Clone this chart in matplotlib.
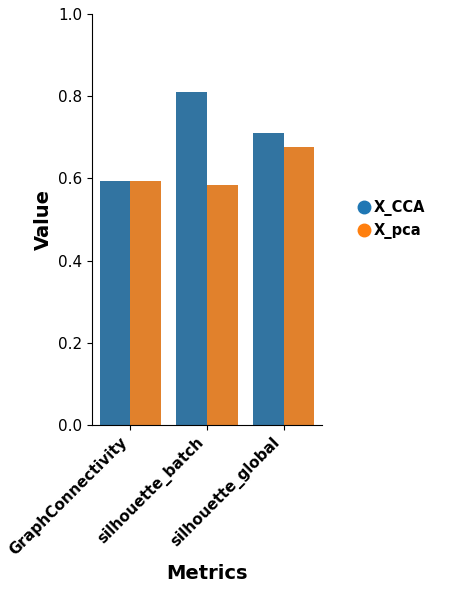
import numpy as np
import matplotlib
matplotlib.use("Agg")
import matplotlib.pyplot as plt
from matplotlib.lines import Line2D

metrics = ["GraphConnectivity", "silhouette_batch", "silhouette_global"]
methods = ["X_CCA", "X_pca"]
x_cca = [0.594, 0.810, 0.710]
x_pca = [0.594, 0.584, 0.676]

bar_colors = ["#3274a1", "#e1812c"]
legend_colors = ["#1f77b4", "#ff7f0e"]

fig = plt.figure(figsize=(4.52, 5.9), dpi=100)
ax = fig.add_axes([0.2035, 0.2797, 0.5085, 0.6966])

x = np.arange(len(metrics))
w = 0.4
ax.bar(x - w / 2, x_cca, width=w, color=bar_colors[0])
ax.bar(x + w / 2, x_pca, width=w, color=bar_colors[1])

ax.set_xlim(-0.5, len(metrics) - 0.5)
ax.set_ylim(0, 1.0)
ax.set_xticks(x)
ax.set_xticklabels(metrics, rotation=45, ha="right", fontsize=11, fontweight="bold")
ax.tick_params(axis="y", labelsize=11)
ax.set_xlabel("Metrics", fontsize=14, fontweight="bold")
ax.set_ylabel("Value", fontsize=14, fontweight="bold")
ax.spines["top"].set_visible(False)
ax.spines["right"].set_visible(False)

handles = [Line2D([0], [0], marker="o", linestyle="", markersize=9,
                  markerfacecolor=c, markeredgecolor=c) for c in legend_colors]
leg = ax.legend(handles, methods, loc="center left", bbox_to_anchor=(1.1, 0.5),
                frameon=False, handlelength=0.8, handletextpad=0.25,
                prop={"weight": "bold", "size": 10.5})

fig.savefig("out.png", dpi=100)
